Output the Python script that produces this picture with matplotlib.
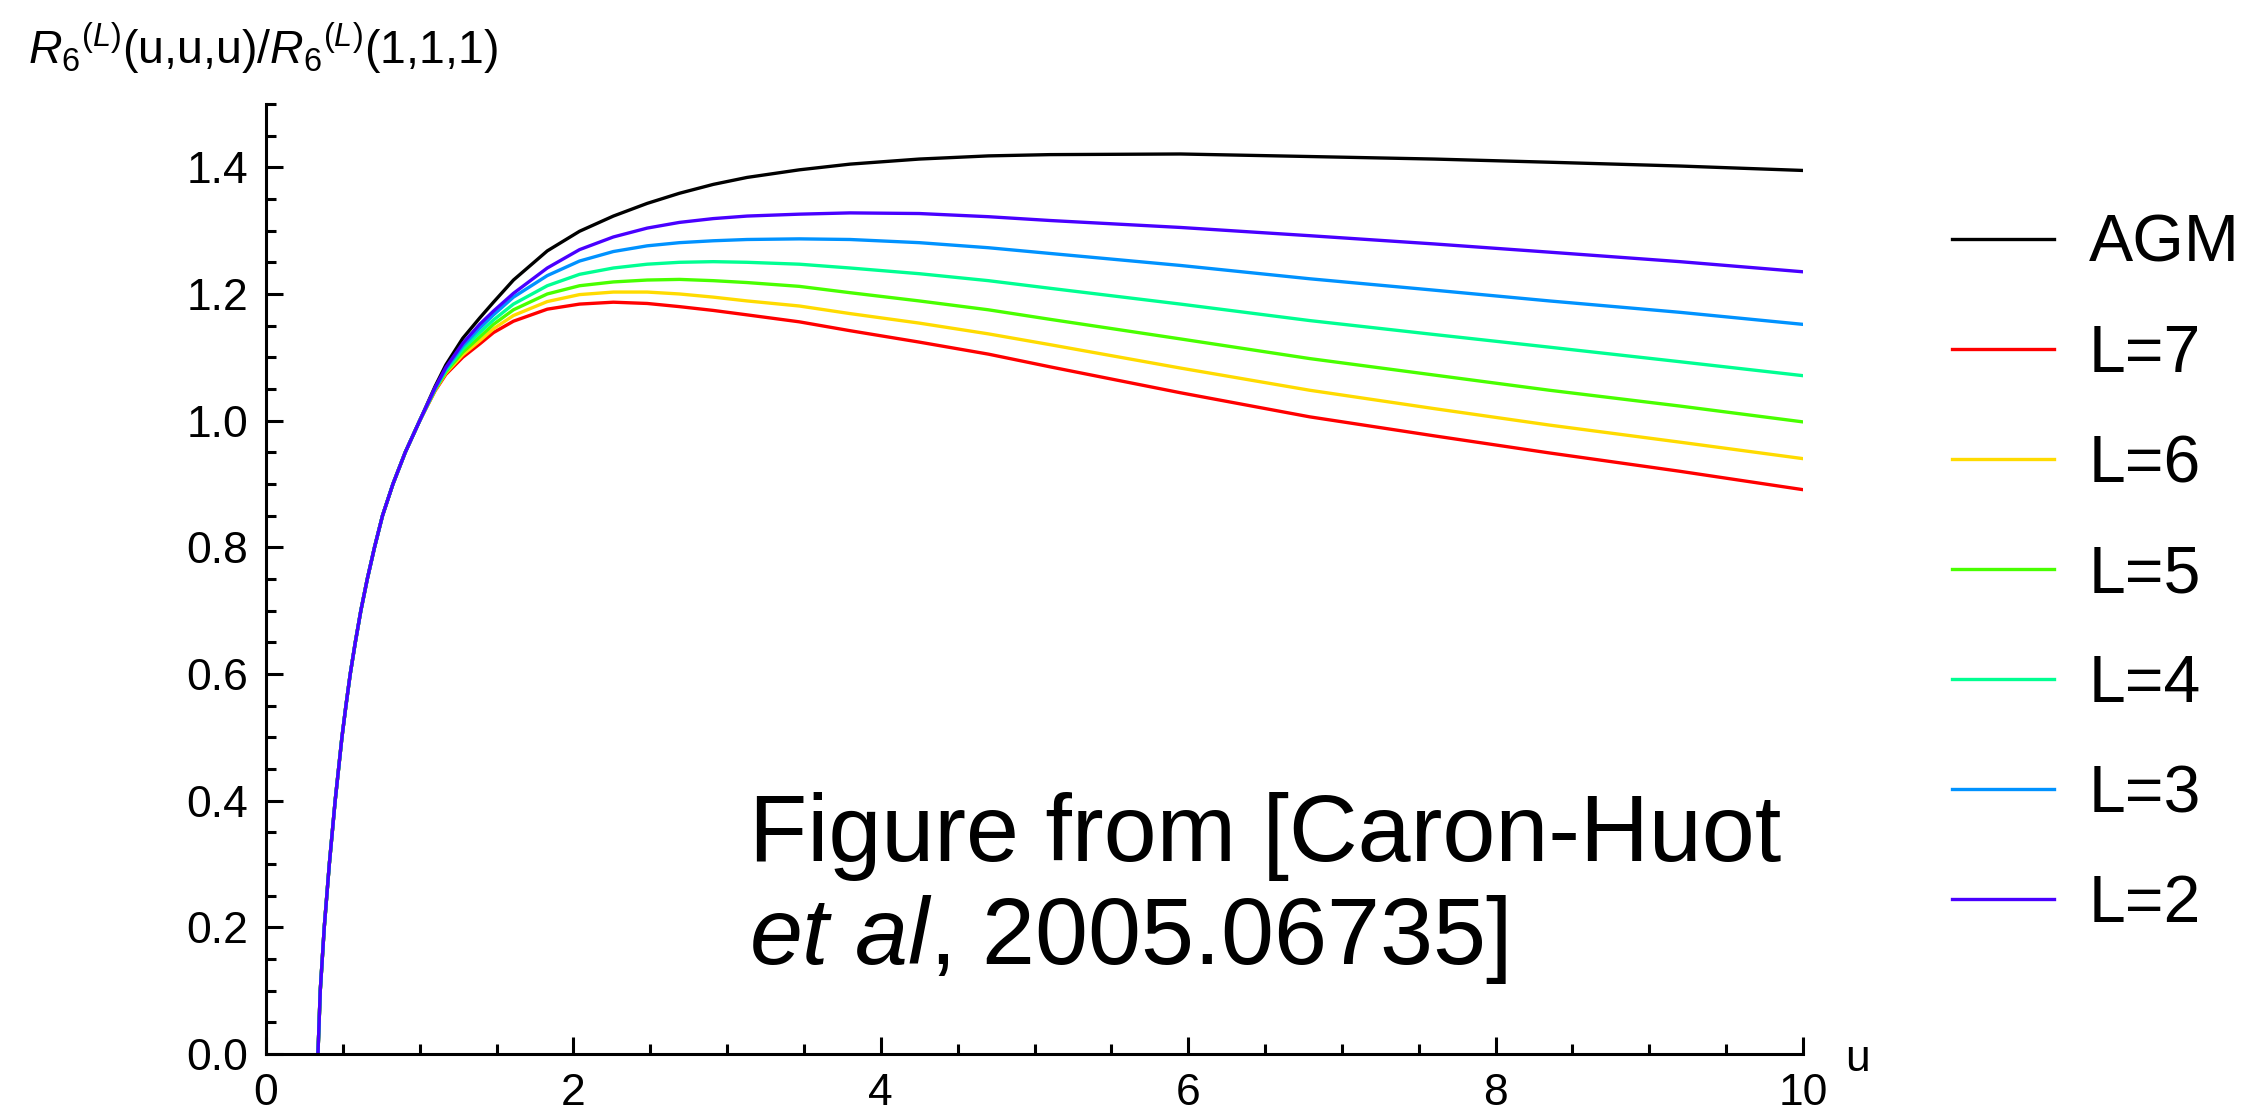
import colorsys
import matplotlib
matplotlib.use('Agg')
import matplotlib.pyplot as plt
from matplotlib.ticker import MultipleLocator, FormatStrFormatter

plt.rcParams['font.family'] = ['Liberation Sans', 'DejaVu Sans']
plt.rcParams['mathtext.fontset'] = 'custom'
plt.rcParams['mathtext.rm'] = 'Liberation Sans'
plt.rcParams['mathtext.it'] = 'Liberation Sans:italic'
plt.rcParams['mathtext.bf'] = 'Liberation Sans:bold'

# values
u = [0.338, 0.353, 0.379, 0.412, 0.45, 0.494, 0.52, 0.548, 0.581, 0.617, 0.659, 0.706, 0.758, 0.826, 0.906, 1.0,
     1.1, 1.17, 1.28, 1.39, 1.48, 1.61, 1.83, 2.04, 2.26, 2.48, 2.69, 2.91, 3.13, 3.47,
     3.8, 4.25, 4.7, 5.1, 5.95, 6.79, 7.6, 8.35, 9.2, 10.0]

agm = [0.0, 0.1, 0.2, 0.3, 0.4, 0.5, 0.55, 0.6, 0.65, 0.7, 0.75, 0.8, 0.85, 0.9, 0.95, 1.0,
       1.054, 1.088, 1.13, 1.162, 1.187, 1.222, 1.268, 1.299, 1.323, 1.343, 1.359, 1.373, 1.384, 1.396,
       1.405, 1.413, 1.418, 1.420, 1.421, 1.417, 1.413, 1.408, 1.402, 1.395]
l7 = [0.0, 0.1, 0.2, 0.3, 0.4, 0.5, 0.55, 0.6, 0.65, 0.7, 0.75, 0.8, 0.85, 0.9, 0.95, 1.0,
      1.047, 1.073, 1.100, 1.121, 1.139, 1.157, 1.176, 1.184, 1.187, 1.185, 1.180, 1.174, 1.167, 1.156,
      1.142, 1.124, 1.105, 1.085, 1.044, 1.006, 0.976, 0.949, 0.920, 0.891]
l6 = [0.0, 0.1, 0.2, 0.3, 0.4, 0.5, 0.55, 0.6, 0.65, 0.7, 0.75, 0.8, 0.85, 0.9, 0.95, 1.0,
      1.048, 1.075, 1.104, 1.126, 1.145, 1.166, 1.188, 1.199, 1.203, 1.203, 1.200, 1.195, 1.189, 1.181,
      1.169, 1.154, 1.137, 1.120, 1.083, 1.048, 1.019, 0.993, 0.966, 0.940]
l5 = [0.0, 0.1, 0.2, 0.3, 0.4, 0.5, 0.55, 0.6, 0.65, 0.7, 0.75, 0.8, 0.85, 0.9, 0.95, 1.0,
      1.049, 1.077, 1.108, 1.132, 1.152, 1.175, 1.200, 1.213, 1.219, 1.222, 1.223, 1.221, 1.218, 1.212,
      1.202, 1.189, 1.175, 1.160, 1.129, 1.098, 1.072, 1.048, 1.023, 0.998]
l4 = [0.0, 0.1, 0.2, 0.3, 0.4, 0.5, 0.55, 0.6, 0.65, 0.7, 0.75, 0.8, 0.85, 0.9, 0.95, 1.0,
      1.050, 1.079, 1.113, 1.139, 1.159, 1.184, 1.213, 1.231, 1.241, 1.247, 1.250, 1.251, 1.250, 1.247,
      1.241, 1.232, 1.221, 1.209, 1.184, 1.158, 1.136, 1.116, 1.093, 1.071]
l3 = [0.0, 0.1, 0.2, 0.3, 0.4, 0.5, 0.55, 0.6, 0.65, 0.7, 0.75, 0.8, 0.85, 0.9, 0.95, 1.0,
      1.051, 1.082, 1.118, 1.146, 1.167, 1.195, 1.229, 1.252, 1.267, 1.276, 1.281, 1.284, 1.286, 1.287,
      1.286, 1.281, 1.273, 1.264, 1.245, 1.224, 1.206, 1.189, 1.171, 1.152]
l2 = [0.0, 0.1, 0.2, 0.3, 0.4, 0.5, 0.55, 0.6, 0.65, 0.7, 0.75, 0.8, 0.85, 0.9, 0.95, 1.0,
      1.052, 1.084, 1.122, 1.152, 1.173, 1.201, 1.241, 1.270, 1.290, 1.304, 1.313, 1.319, 1.323, 1.326,
      1.328, 1.327, 1.322, 1.316, 1.305, 1.292, 1.279, 1.266, 1.251, 1.235]

loops = [7, 6, 5, 4, 3, 2]
loop_series = [l7, l6, l5, l4, l3, l2]

fig = plt.figure(figsize=(22.44, 11.13), dpi=100)
ax = fig.add_axes([0.11854, 0.0530, 0.68494, 0.8536])

ax.plot(u, agm, color='black', lw=2.4, label='AGM')
for L, vals in zip(loops, loop_series):
    # Mathematica style Hue[(7-L)/7]
    col = colorsys.hsv_to_rgb((7 - L) / 7, 1, 1)
    ax.plot(u, vals, color=col, lw=2.4, label=f'L={L}')

ax.set_xlim(0, 10)
ax.set_ylim(0, 1.5)
ax.xaxis.set_major_locator(MultipleLocator(2))
ax.xaxis.set_minor_locator(MultipleLocator(0.5))
ax.yaxis.set_major_locator(MultipleLocator(0.2))
ax.yaxis.set_minor_locator(MultipleLocator(0.05))
ax.xaxis.set_major_formatter(FormatStrFormatter('%d'))
ax.yaxis.set_major_formatter(FormatStrFormatter('%.1f'))

for side in ['top', 'right']:
    ax.spines[side].set_visible(False)
for side in ['left', 'bottom']:
    ax.spines[side].set_linewidth(2.2)

ax.tick_params(which='major', direction='in', length=12.5, width=2.2, labelsize=32)
ax.tick_params(which='minor', direction='in', length=7.5, width=2.2)
ax.tick_params(axis='x', which='major', pad=14)
ax.tick_params(axis='y', which='major', pad=13)

fig.text(28 / 2244, 1 - 64 / 1113, r'$R_6{}^{(L)}$(u,u,u)/$R_6{}^{(L)}$(1,1,1)',
         fontsize=33.5, ha='left', va='baseline')
fig.text(1845 / 2244, 1 - 1071 / 1113, 'u', fontsize=32, ha='left', va='baseline')

fig.text(749 / 2244, 1 - 861 / 1113, 'Figure from [Caron-Huot', fontsize=68.6,
         ha='left', va='baseline')
fig.text(749 / 2244, 1 - 964 / 1113, r'$\mathit{et\ al}$, 2005.06735]', fontsize=68.6,
         ha='left', va='baseline')

fig.legend(loc='upper left', bbox_to_anchor=(1952 / 2244, 1 - 214 / 1113),
           frameon=False, fontsize=47.7, handlelength=1.54, handletextpad=0.52,
           labelspacing=0.725, borderpad=0, borderaxespad=0)

fig.savefig('out.png', dpi=100)
